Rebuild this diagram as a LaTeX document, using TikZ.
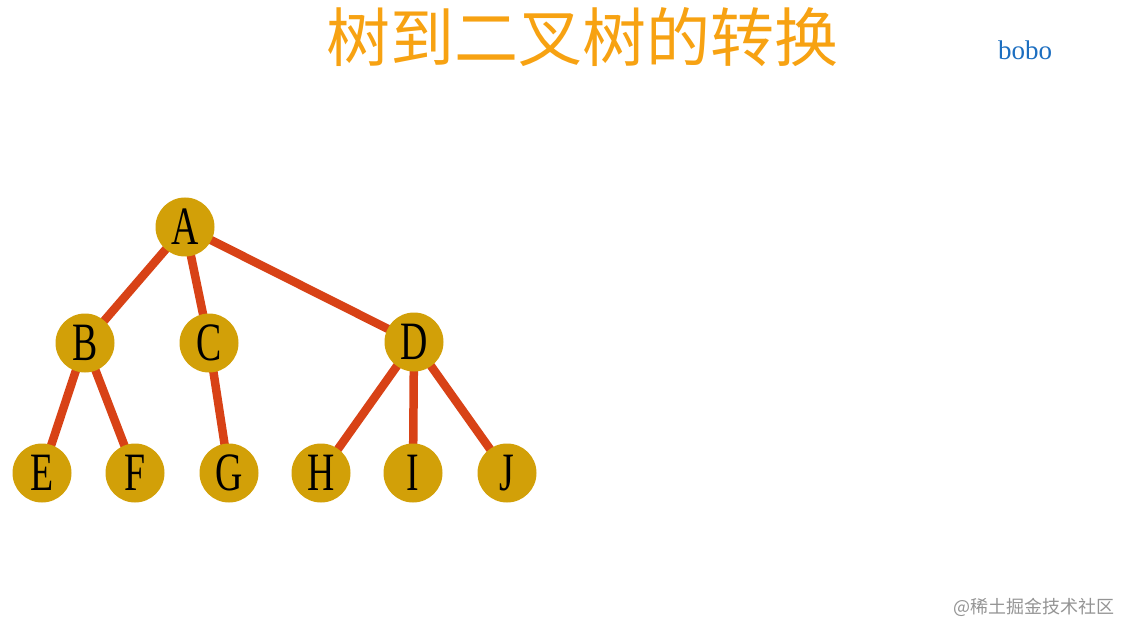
\documentclass[tikz,border=0pt]{standalone}
\usepackage{fontspec}
\usepackage{graphicx}
\setmainfont{Liberation Serif}
\newfontfamily\cjk{Noto Sans CJK SC}
\usetikzlibrary{backgrounds}
\definecolor{nodegold}{RGB}{210,160,8}
\definecolor{edgered}{RGB}{216,66,22}
\definecolor{titleorange}{RGB}{247,162,18}
\definecolor{boboblue}{RGB}{28,110,192}
\newcommand{\thinletter}[1]{\scalebox{0.7}[1]{#1}}
\begin{document}
\begin{tikzpicture}[
                x=1pt,y=-1pt,
                treenode/.style={circle,fill=nodegold,minimum size=59pt,inner sep=0pt,
                    font=\fontsize{54}{54}\selectfont},
                edge/.style={draw=edgered,line width=8.5pt}
            ]
                \useasboundingbox (0,0) rectangle (1134,636);
                \node (title) at (582,37) [text=titleorange,font=\cjk\fontsize{64}{64}\selectfont] {树到二叉树的转换};
                \node (bobo) at (1025,50) [text=boboblue,font=\fontsize{27}{27}\selectfont] {bobo};
                \node (mark) at (1034,607) [text=black!42,font=\cjk\fontsize{18}{18}\selectfont] {@稀土掘金技术社区};
                % tree
                \node (A) at (185,227) [treenode] {\thinletter{A}};
                \node (B) at (85,343)  [treenode] {\thinletter{B}};
                \node (C) at (209,343) [treenode] {\thinletter{C}};
                \node (D) at (414,342) [treenode] {\thinletter{D}};
                \node (E) at (42,473)  [treenode] {\thinletter{E}};
                \node (F) at (135,473) [treenode] {\thinletter{F}};
                \node (G) at (229,473) [treenode] {\thinletter{G}};
                \node (H) at (321,473) [treenode] {\thinletter{H}};
                \node (I) at (413,473) [treenode] {\thinletter{I}};
                \node (J) at (507,473) [treenode] {\thinletter{J}};
                \begin{scope}[on background layer]
                    \foreach \p/\c in {A/B,A/C,A/D,B/E,B/F,C/G,D/H,D/I,D/J}
                        \draw[edge] (\p.center) -- (\c.center);
                \end{scope}
            \end{tikzpicture}
\end{document}
